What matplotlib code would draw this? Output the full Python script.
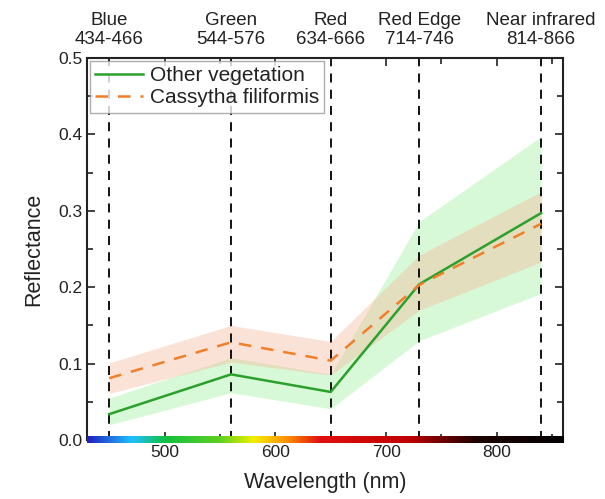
import numpy as np
import matplotlib
matplotlib.use("Agg")
import matplotlib.pyplot as plt
from matplotlib.colors import LinearSegmentedColormap
from matplotlib.ticker import MultipleLocator

plt.rcParams['font.family'] = ['Liberation Sans', 'DejaVu Sans']

# band centres (nm) and labels
wavelength = [450, 560, 650, 730, 840]
band_names = ["Blue", "Green", "Red", "Red Edge", "Near infrared"]
band_ranges = ["434-466", "544-576", "634-666", "714-746", "814-866"]

# mean reflectance and spread
veg_mean = [0.034, 0.086, 0.063, 0.204, 0.297]
veg_low = [0.020, 0.062, 0.041, 0.130, 0.192]
veg_high = [0.055, 0.108, 0.086, 0.286, 0.397]

cas_mean = [0.081, 0.128, 0.104, 0.203, 0.283]
cas_low = [0.061, 0.102, 0.085, 0.170, 0.233]
cas_high = [0.101, 0.150, 0.129, 0.242, 0.325]

fig = plt.figure(figsize=(6.05, 4.99), dpi=100)
ax = fig.add_axes([0.144, 0.118, 0.787, 0.766])

ax.fill_between(wavelength, veg_low, veg_high, color='#8ef08e', alpha=0.35, lw=0)
ax.fill_between(wavelength, cas_low, cas_high, color='#f7b89a', alpha=0.4, lw=0)
ax.plot(wavelength, veg_mean, color='#2ca02c', lw=1.8, label='Other vegetation')
ax.plot(wavelength, cas_mean, color='#f07f2a', lw=1.8, ls=(0, (5, 4)),
        label='Cassytha filiformis')

for w in wavelength:
    ax.axvline(w, color='black', lw=1.3, ls=(0, (5, 4)), zorder=1)

ax.set_xlim(430, 860)
ax.set_ylim(0, 0.5)
ax.xaxis.set_major_locator(MultipleLocator(100))
ax.xaxis.set_minor_locator(MultipleLocator(50))
ax.yaxis.set_major_locator(MultipleLocator(0.1))
ax.yaxis.set_minor_locator(MultipleLocator(0.05))
ax.tick_params(which='both', direction='in', top=True, right=True, labelsize=12.5,
               width=1.2, color='#222222', labelcolor='#222222')
ax.tick_params(which='major', length=6)
ax.tick_params(which='minor', length=4)
ax.set_yticks([0, 0.1, 0.2, 0.3, 0.4, 0.5])
ax.set_yticklabels(['0.0', '0.1', '0.2', '0.3', '0.4', '0.5'])
for s in ax.spines.values():
    s.set_linewidth(1.5)
    s.set_color('#222222')

ax.set_xlabel('Wavelength (nm)', fontsize=15.5, labelpad=9, color='#222222')
ax.set_ylabel('Reflectance', fontsize=15.5, labelpad=10, color='#222222')

# spectrum strip along the x axis
stops = [430, 470, 500, 550, 580, 610, 640, 720, 780, 860]
cols = ['#2020c0', '#20c0ff', '#10c040', '#60d020', '#f0f000', '#ff9000',
        '#e01010', '#c00000', '#200000', '#000000']
spec = LinearSegmentedColormap.from_list(
    'spec', [((s - 430) / 430, c) for s, c in zip(stops, cols)])
grad = np.linspace(0, 1, 512).reshape(1, -1)
ax.imshow(grad, extent=[430, 860, -0.004, 0.004], aspect='auto', cmap=spec,
          clip_on=False, zorder=5)
ax.set_xlim(430, 860)
ax.set_ylim(0, 0.5)

top = ax.secondary_xaxis('top')
top.set_xticks(wavelength)
top.set_xticklabels([f"{n}\n{r}" for n, r in zip(band_names, band_ranges)],
                    color='#222222')
top.tick_params(length=0, labelsize=13.5, pad=7)
top.spines['top'].set_visible(False)

leg = ax.legend(loc='upper left', fontsize=15, frameon=True, fancybox=False,
                borderaxespad=0.15, handlelength=2.3, borderpad=0.25,
                labelspacing=0.15, handletextpad=0.3)
leg.get_frame().set_edgecolor('#999999')
leg.get_frame().set_linewidth(1.0)
for t in leg.get_texts():
    t.set_color('#222222')

fig.savefig('out.png', dpi=100)
